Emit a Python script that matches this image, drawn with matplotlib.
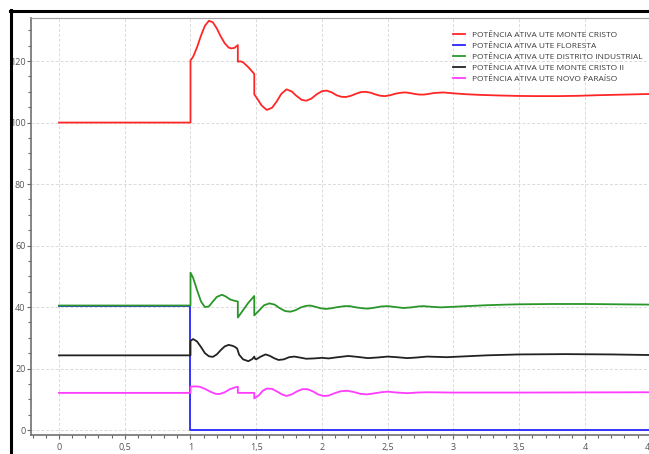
import matplotlib
matplotlib.use('Agg')
import matplotlib.pyplot as plt
from matplotlib.lines import Line2D
from matplotlib.ticker import MultipleLocator, FuncFormatter


labels = ['POTÊNCIA ATIVA UTE MONTE CRISTO',
          'POTÊNCIA ATIVA UTE FLORESTA',
          'POTÊNCIA ATIVA UTE DISTRITO INDUSTRIAL',
          'POTÊNCIA ATIVA UTE MONTE CRISTO II',
          'POTÊNCIA ATIVA UTE NOVO PARAÍSO',
          ]
colors = ['#ff2626', '#2626ff', '#2a962a', '#222222', '#ff3cff']

# values (time in s, power in MW)
t_monte_cristo = [0, 1.0, 1.0, 1.02, 1.05, 1.08, 1.11, 1.14, 1.17, 1.20, 1.23, 1.26,
                  1.29, 1.31, 1.335, 1.36, 1.36, 1.38, 1.40, 1.44, 1.485, 1.485, 1.51,
                  1.54, 1.58, 1.62, 1.655, 1.69, 1.73, 1.77, 1.805, 1.845, 1.88, 1.92,
                  1.96, 2.0, 2.035, 2.075, 2.11, 2.145, 2.18, 2.22, 2.26, 2.295, 2.33,
                  2.37, 2.41, 2.445, 2.48, 2.52, 2.56, 2.60, 2.635, 2.67, 2.705, 2.74,
                  2.775, 2.81, 2.85, 2.92, 3.0, 3.1, 3.2, 3.35, 3.5, 3.65, 3.8, 3.95,
                  4.1, 4.3, 4.5, 4.7]
p_monte_cristo = [100, 100, 120.2, 121.4, 124.5, 128.3, 131.5, 133.1, 132.6, 130.6, 128.0,
                  125.8, 124.4, 124.1, 124.3, 125.2, 119.8, 119.9, 119.6, 118.0, 115.8,
                  109.2, 107.6, 105.6, 104.1, 104.8, 106.8, 109.3, 110.8, 110.1, 108.7,
                  107.4, 107.1, 107.8, 109.2, 110.2, 110.4, 109.8, 108.9, 108.4, 108.3,
                  108.7, 109.4, 109.9, 110.0, 109.7, 109.1, 108.7, 108.6, 108.9, 109.4,
                  109.7, 109.8, 109.6, 109.3, 109.1, 109.1, 109.3, 109.6, 109.8, 109.5,
                  109.2, 109.0, 108.8, 108.65, 108.6, 108.6, 108.7, 108.9, 109.1, 109.3,
                  109.4]

t_floresta = [0, 1.0, 1.0, 4.7]
p_floresta = [40.5, 40.5, 0, 0]

t_distrito = [0, 1.0, 1.0, 1.02, 1.05, 1.08, 1.11, 1.14, 1.17, 1.20, 1.24, 1.27, 1.30,
              1.33, 1.36, 1.36, 1.40, 1.44, 1.485, 1.485, 1.52, 1.56, 1.60, 1.64, 1.68,
              1.72, 1.76, 1.80, 1.84, 1.88, 1.91, 1.95, 1.99, 2.03, 2.07, 2.12, 2.17,
              2.21, 2.26, 2.31, 2.35, 2.40, 2.45, 2.50, 2.56, 2.62, 2.68, 2.73, 2.77,
              2.83, 2.90, 3.0, 3.1, 3.25, 3.4, 3.5, 3.75, 4.0, 4.25, 4.5, 4.7]
p_distrito = [40.5, 40.5, 51.2, 49.5, 45.5, 41.8, 40.0, 40.2, 41.8, 43.3, 44.0, 43.4, 42.5,
              42.1, 41.8, 36.6, 39.0, 41.4, 43.6, 37.3, 38.8, 40.6, 41.2, 40.8, 39.6,
              38.7, 38.5, 39.0, 39.9, 40.4, 40.5, 40.1, 39.6, 39.4, 39.6, 40.0, 40.3,
              40.3, 39.9, 39.6, 39.5, 39.8, 40.2, 40.3, 40.0, 39.7, 39.9, 40.2, 40.3,
              40.1, 39.9, 40.1, 40.3, 40.6, 40.8, 40.9, 41.0, 41.0, 40.9, 40.8, 40.7]

t_monte_cristo_2 = [0, 1.0, 1.0, 1.02, 1.05, 1.08, 1.11, 1.14, 1.17, 1.20, 1.23, 1.26,
                    1.29, 1.32, 1.34, 1.355, 1.37, 1.40, 1.44, 1.47, 1.485, 1.49, 1.50,
                    1.53, 1.57, 1.60, 1.64, 1.67, 1.71, 1.75, 1.79, 1.83, 1.88, 1.94, 2.0,
                    2.05, 2.12, 2.2, 2.27, 2.35, 2.42, 2.5, 2.57, 2.65, 2.72, 2.8, 2.95,
                    3.1, 3.25, 3.5, 3.85, 4.2, 4.5, 4.7]
p_monte_cristo_2 = [24.3, 24.3, 29.0, 29.6, 28.8, 27.0, 25.0, 24.0, 23.8, 24.6, 26.0, 27.2,
                    27.7, 27.4, 27.0, 26.5, 24.5, 23.0, 22.4, 23.1, 23.9, 23.2, 23.0,
                    23.8, 24.6, 24.2, 23.3, 22.8, 23.0, 23.7, 23.9, 23.6, 23.2, 23.3, 23.5,
                    23.3, 23.7, 24.1, 23.8, 23.4, 23.6, 23.9, 23.7, 23.4, 23.6, 23.9, 23.7,
                    24.0, 24.3, 24.6, 24.7, 24.6, 24.4, 24.3]

t_novo_paraiso = [0, 1.0, 1.0, 1.03, 1.07, 1.11, 1.15, 1.19, 1.22, 1.26, 1.30, 1.34, 1.36,
                  1.36, 1.485, 1.485, 1.52, 1.55, 1.58, 1.62, 1.66, 1.70, 1.73, 1.77, 1.81,
                  1.85, 1.89, 1.93, 1.97, 2.01, 2.05, 2.09, 2.14, 2.19, 2.24, 2.29, 2.34,
                  2.39, 2.45, 2.5, 2.57, 2.65, 2.72, 2.8, 3.0, 3.5, 4.0, 4.5, 4.7]
p_novo_paraiso = [12.1, 12.1, 14.1, 14.2, 14.1, 13.4, 12.5, 11.8, 11.7, 12.3, 13.3, 13.9, 14.1,
                  12.1, 12.1, 10.3, 11.3, 12.8, 13.5, 13.4, 12.5, 11.5, 11.1, 11.6, 12.6,
                  13.3, 13.3, 12.6, 11.6, 11.1, 11.2, 11.9, 12.6, 12.8, 12.4, 11.8, 11.6,
                  11.9, 12.3, 12.5, 12.2, 12.0, 12.2, 12.3, 12.2, 12.2, 12.25, 12.3, 12.3]

times = [t_monte_cristo, t_floresta, t_distrito, t_monte_cristo_2, t_novo_paraiso]
powers = [p_monte_cristo, p_floresta, p_distrito, p_monte_cristo_2, p_novo_paraiso]


def comma(value, pos):
    text = '{:g}'.format(value)
    return text.replace('.', ',')


def main():
    W, H = 649, 454
    plt.rcParams['font.family'] = ['Open Sans', 'DejaVu Sans']
    fig = plt.figure(figsize=(W / 100, H / 100), dpi=100)
    fig.patch.set_facecolor('white')

    # axes run past the right border, the screenshot cuts the chart there
    left, top, bottom = 31, 18, 435
    ax = fig.add_axes([left / W, 1 - bottom / H, (677 - left) / W, (bottom - top) / H])
    ax.set_xlim(-0.213, 4.7)
    ax.set_ylim(-1.6, 134)

    for t, p, color, label in zip(times, powers, colors, labels):
        ax.plot(t, p, color=color, lw=1.3, label=label)

    ax.xaxis.set_major_locator(MultipleLocator(0.5))
    ax.xaxis.set_minor_locator(MultipleLocator(0.1))
    ax.yaxis.set_major_locator(MultipleLocator(20))
    ax.yaxis.set_minor_locator(MultipleLocator(5))
    ax.xaxis.set_major_formatter(FuncFormatter(comma))
    ax.grid(True, which='major', color='#dadada', ls=(0, (3, 2)), lw=0.7)
    ax.tick_params(which='both', direction='out', colors='#666666', labelcolor='#555555',
                   labelsize=6.5, width=0.8)
    ax.tick_params(which='major', length=3)
    ax.tick_params(which='minor', length=2.5)
    ax.tick_params(axis='x', which='major', pad=2.5)
    ax.tick_params(axis='y', which='major', pad=1)
    for side in ['left', 'bottom']:
        ax.spines[side].set_color('#707070')
        ax.spines[side].set_linewidth(1.2)
    ax.spines['top'].set_color('#a0a0a0')
    ax.spines['top'].set_linewidth(0.8)
    ax.spines['right'].set_visible(False)

    leg = ax.legend(loc='upper left', bbox_to_anchor=(453 / W, 1 - 31 / H),
                    bbox_transform=fig.transFigure, frameon=False,
                    prop={'family': 'Open Sans', 'size': 6.0},
                    handlelength=1.45, handletextpad=0.85, labelspacing=0.38,
                    borderaxespad=0, borderpad=0)
    for text in leg.get_texts():
        text.set_color('#3a3a3a')

    # black window border of the screenshot
    fig.add_artist(Line2D([11 / W, 11 / W], [0, 1 - 10 / H], color='black', lw=2.2,
                          transform=fig.transFigure, zorder=10))
    fig.add_artist(Line2D([10 / W, 1], [1 - 11 / H, 1 - 11 / H], color='black', lw=2.2,
                          transform=fig.transFigure, zorder=10))

    fig.savefig('out.png', dpi=100)


if __name__ == '__main__':
    main()
